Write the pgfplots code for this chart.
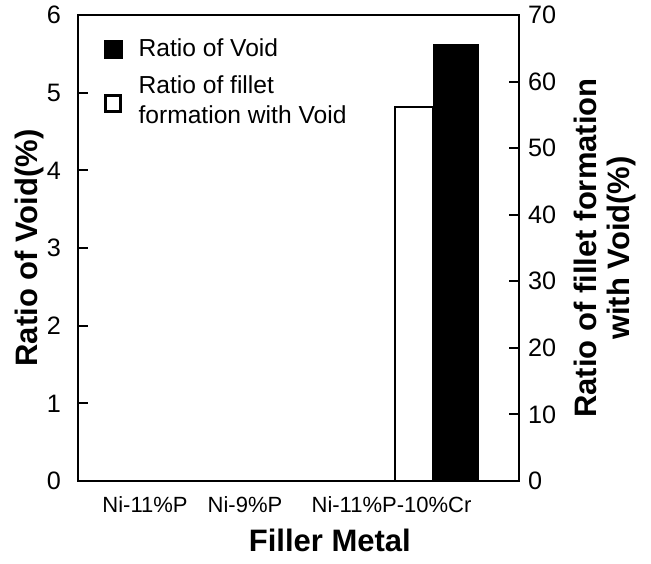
\documentclass[border=0pt]{standalone}
\usepackage{pgfplots}
\pgfplotsset{compat=1.18}
\usepackage{fontspec}
\setmainfont{Liberation Sans}

\begin{document}
\begin{tikzpicture}
\pgfplotsset{
  every axis/.append style={
    scale only axis, width=220.5pt, height=233pt,
    xmin=0, xmax=441,
    axis line style={line width=1.4pt},
    tick style={line width=1pt, black},
    major tick length=5pt,
    tick align=inside,
    /pgf/number format/assume math mode=true,
    tick label style={font=\fontsize{12.6}{14}\selectfont},
    label style={font=\bfseries\fontsize{15.5}{16.5}\selectfont},
  },
}
% left axis: ratio of void
\begin{axis}[
  ymin=0, ymax=6, ytick={0,1,...,6},
  ytick pos=left,
  yticklabel style={xshift=-5pt},
  xtick={67,167,313.5},
  xticklabels={Ni-11\%P, Ni-9\%P, Ni-11\%P-10\%Cr},
  x tick style={draw=none},
  xticklabel style={font=\fontsize{11}{12}\selectfont, anchor=center, yshift=-12pt},
  ylabel={Ratio of Void(\%)},
  ylabel style={at={(axis description cs:-0.109,0.5)}, anchor=center, rotate=0},
  xlabel={Filler Metal},
  xlabel style={at={(axis description cs:0.571,-0.127)}, anchor=center},
]
\addplot[ybar, bar width=45, fill=black, draw=black] coordinates {(377.5,5.62)};
\end{axis}
% right axis: ratio of fillet formation with void
\begin{axis}[
  ymin=0, ymax=70, ytick={0,10,...,70},
  axis y line*=right, axis x line=none,
  yticklabel style={xshift=1pt},
  ylabel={Ratio of fillet formation\\with Void(\%)},
  ylabel style={at={(axis description cs:1.195,0.5)}, anchor=center, rotate=0, align=center},
  legend style={at={(axis description cs:0.044,0.967)}, anchor=north west,
    draw=none, fill=none, font=\fontsize{12.3}{15}\selectfont,
    cells={anchor=west, align=left}, row sep=4pt},
]
\addplot[ybar, bar width=38, fill=white, draw=black, line width=1pt, forget plot] coordinates {(336,56.2)};
\addlegendimage{legend image code/.code={\fill[black] (0pt,-4.6pt) rectangle (9pt,4.6pt); \path (15pt,0pt);}}
\addlegendentry{Ratio of Void}
\addlegendimage{legend image code/.code={\draw[black, line width=1.5pt] (0.75pt,-5.2pt) rectangle (8.25pt,2.8pt); \path (15pt,0pt);}}
\addlegendentry{Ratio of fillet\\formation with Void}
\end{axis}
\pgfresetboundingbox
\path[use as bounding box] (-39pt,-41pt) rectangle (286.5pt,240.5pt);
\end{tikzpicture}
\end{document}
